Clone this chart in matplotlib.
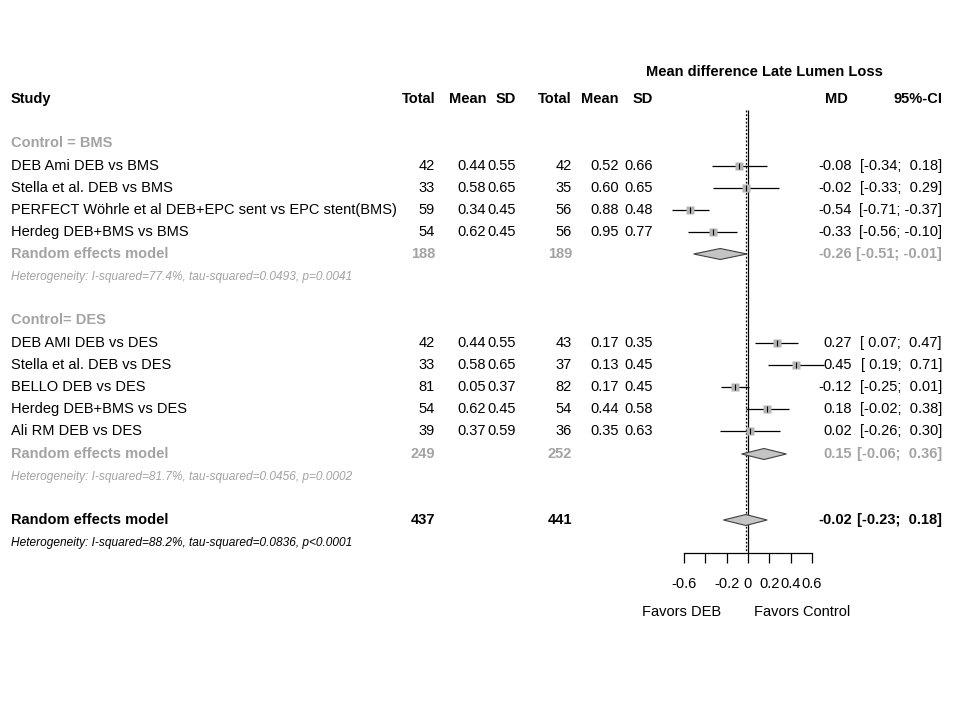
import numpy as np
import matplotlib.pyplot as plt
import matplotlib as mpl

mpl.rcParams['font.family'] = ['Liberation Sans', 'DejaVu Sans']

# --- Data: Control = BMS ---
studies_bms = ["DEB Ami DEB vs BMS", "Stella et al. DEB vs BMS",
               "PERFECT Wöhrle et al DEB+EPC sent vs EPC stent(BMS)",
               "Herdeg DEB+BMS vs BMS"]
n_deb_bms = [42, 33, 59, 54]
mean_deb_bms = [0.44, 0.58, 0.34, 0.62]
sd_deb_bms = [0.55, 0.65, 0.45, 0.45]
n_ctl_bms = [42, 35, 56, 56]
mean_ctl_bms = [0.52, 0.60, 0.88, 0.95]
sd_ctl_bms = [0.66, 0.65, 0.48, 0.77]
md_bms = [-0.08, -0.02, -0.54, -0.33]
lo_bms = [-0.34, -0.33, -0.71, -0.56]
hi_bms = [0.18, 0.29, -0.37, -0.10]
pool_bms = (-0.26, -0.51, -0.01)
tot_bms = (188, 189)
het_bms = "Heterogeneity: I-squared=77.4%, tau-squared=0.0493, p=0.0041"

# --- Data: Control = DES ---
studies_des = ["DEB AMI DEB vs DES", "Stella et al. DEB vs DES", "BELLO DEB vs DES",
               "Herdeg DEB+BMS vs DES", "Ali RM DEB vs DES"]
n_deb_des = [42, 33, 81, 54, 39]
mean_deb_des = [0.44, 0.58, 0.05, 0.62, 0.37]
sd_deb_des = [0.55, 0.65, 0.37, 0.45, 0.59]
n_ctl_des = [43, 37, 82, 54, 36]
mean_ctl_des = [0.17, 0.13, 0.17, 0.44, 0.35]
sd_ctl_des = [0.35, 0.45, 0.45, 0.58, 0.63]
md_des = [0.27, 0.45, -0.12, 0.18, 0.02]
lo_des = [0.07, 0.19, -0.25, -0.02, -0.26]
hi_des = [0.47, 0.71, 0.01, 0.38, 0.30]
pool_des = (0.15, -0.06, 0.36)
tot_des = (249, 252)
het_des = "Heterogeneity: I-squared=81.7%, tau-squared=0.0456, p=0.0002"

# --- Overall ---
pool_all = (-0.02, -0.23, 0.18)
tot_all = (437, 441)
het_all = "Heterogeneity: I-squared=88.2%, tau-squared=0.0836, p<0.0001"

xticks = [-0.6, -0.4, -0.2, 0, 0.2, 0.4, 0.6]
xticklabels = ["-0.6", "", "-0.2", "0", "0.2", "0.4", "0.6"]

# --- Layout (pixels) ---
W, H = 960, 720
X0, SCALE = 748, 106.6          # pixel of MD=0, pixels per unit
ROW = 22
GRAY = '#a3a3a3'
FS = 10.5
FS_HET = 8.6
col_tot1, col_mean1, col_sd1 = 435, 486, 516
col_tot2, col_mean2, col_sd2 = 572, 619, 653
col_md, col_ci = 852, 942

fig = plt.figure(figsize=(9.6, 7.2), dpi=100)
ax = fig.add_axes([0, 0, 1, 1])
ax.set_xlim(0, W)
ax.set_ylim(H, 0)
ax.axis('off')

fx = fig.add_axes([0, 0, 1, 1])
fx.set_xlim(-X0 / SCALE, (W - X0) / SCALE)
fx.set_ylim(H, 0)
fx.patch.set_alpha(0)
for s in ['top', 'left', 'right']:
    fx.spines[s].set_visible(False)
fx.set_yticks([])
fx.spines['bottom'].set_position(('data', 553))
fx.spines['bottom'].set_bounds(-0.6, 0.6)
fx.spines['bottom'].set_linewidth(0.9)
fx.set_xticks(xticks)
fx.set_xticklabels(xticklabels, fontsize=FS)
fx.tick_params(axis='x', direction='out', length=7, width=0.9, pad=10)

def txt(x, y, s, ha='right', **kw):
    kw.setdefault('fontsize', FS)
    ax.text(x, y, s, ha=ha, va='center', **kw)

def ci_str(lo, hi):
    return f"[{lo:5.2f}; {hi:5.2f}]"

# headers
txt(764, 72, "Mean difference Late Lumen Loss", ha='center', fontweight='bold')
txt(11, 99, "Study", ha='left', fontweight='bold')
for x, s in [(col_tot1, "Total"), (col_mean1, "Mean"), (col_sd1, "SD"),
             (col_tot2, "Total"), (col_mean2, "Mean"), (col_sd2, "SD"),
             (848, "MD"), (col_ci, "95%-CI")]:
    txt(x, 99, s, fontweight='bold')

def study_rows(y0, names, n1, m1, s1, n2, m2, s2, md, lo, hi):
    ys = [y0 + ROW * i for i in range(len(names))]
    for y, nm, a, b, c, d, e, f, m, l, h in zip(ys, names, n1, m1, s1, n2, m2, s2, md, lo, hi):
        txt(11, y, nm, ha='left')
        txt(col_tot1, y, str(a))
        txt(col_mean1, y, f"{b:.2f}")
        txt(col_sd1, y, f"{c:.2f}")
        txt(col_tot2, y, str(d))
        txt(col_mean2, y, f"{e:.2f}")
        txt(col_sd2, y, f"{f:.2f}")
        txt(col_md, y, f"{m:.2f}")
        txt(col_ci, y, ci_str(l, h))
    fx.hlines(ys, lo, hi, color='black', lw=0.9, zorder=3)
    fx.plot(md, ys, 's', ms=5.4, mfc='#b4b4b4', mec='none', zorder=4)
    fx.plot(md, ys, '|', ms=4.5, color='black', mew=0.8, zorder=5)

def diamond(y, est, lo, hi, half=5.5):
    fx.fill([lo, est, hi, est], [y, y - half, y, y + half], facecolor='#c4c4c4',
            edgecolor='#404040', lw=0.8, zorder=4)

def pooled_row(y, tots, pool, color, het, het_color):
    txt(11, y, "Random effects model", ha='left', fontweight='bold', color=color)
    txt(col_tot1, y, str(tots[0]), fontweight='bold', color=color)
    txt(col_tot2, y, str(tots[1]), fontweight='bold', color=color)
    txt(col_md, y, f"{pool[0]:.2f}", fontweight='bold', color=color)
    txt(col_ci, y, ci_str(pool[1], pool[2]), fontweight='bold', color=color)
    diamond(y, *pool)
    txt(11, y + 23, het, ha='left', fontsize=FS_HET, style='italic', color=het_color)

# group BMS
txt(11, 143, "Control = BMS", ha='left', fontweight='bold', color=GRAY)
study_rows(166, studies_bms, n_deb_bms, mean_deb_bms, sd_deb_bms,
           n_ctl_bms, mean_ctl_bms, sd_ctl_bms, md_bms, lo_bms, hi_bms)
pooled_row(254, tot_bms, pool_bms, GRAY, het_bms, GRAY)

# group DES
txt(11, 320, "Control= DES", ha='left', fontweight='bold', color=GRAY)
study_rows(343, studies_des, n_deb_des, mean_deb_des, sd_deb_des,
           n_ctl_des, mean_ctl_des, sd_ctl_des, md_des, lo_des, hi_des)
pooled_row(454, tot_des, pool_des, GRAY, het_des, GRAY)

# overall
pooled_row(520, tot_all, pool_all, 'black', het_all, 'black')

# reference lines
fx.vlines(0, 110, 553, color='black', lw=0.9, zorder=2)
fx.vlines(pool_all[0], 110, 553, color='black', lw=0.9, linestyles=(0, (1.5, 1.5)), zorder=2)

txt(682, 612, "Favors DEB", ha='center')
txt(802, 612, "Favors Control", ha='center')

fig.savefig('out.png', dpi=100, facecolor='white')
